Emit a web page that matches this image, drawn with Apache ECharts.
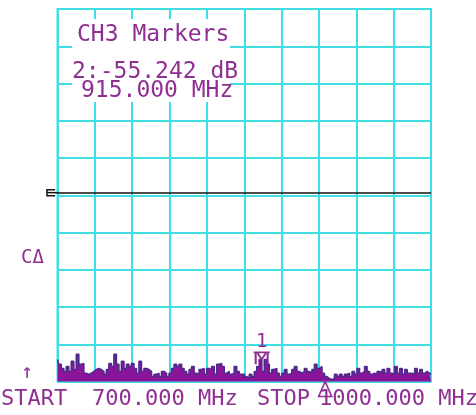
<!DOCTYPE html>
<html><head><meta charset="utf-8">
<script src="https://cdn.jsdelivr.net/npm/echarts@6/dist/echarts.min.js"></script>
<style>html,body{margin:0;padding:0;background:#fff}#c{width:476px;height:415px}</style>
</head><body><div id="c"></div>
<script>
// Sweep settings (MHz)
const startFreq = 700;
const stopFreq = 1000;
// Trace readings (dB), read left to right off the display
const traceDb = [
 -94.1,-95.4,-96.5,-97.3,-96.0,-97.3,-94.6,-96.8,-92.7,-95.4,-95.2,-97.8,-98.1,-97.8,-97.3,-96.8,-96.5,-96.8,-97.3,-98.1,-96.8,-95.2,-96.0,-92.7,-95.4,-97.3,-94.6,-96.5,-95.4,-96.0,-95.2,-96.5,-97.8,-94.6,-97.3,-96.5,-96.8,
 -97.3,-98.7,-98.1,-97.8,-98.7,-97.3,-97.8,-98.7,-97.8,-96.5,-95.4,-96.0,-95.4,-96.5,-97.3,-98.1,-96.8,-96.0,-97.8,-98.1,-96.8,-96.5,-98.1,-96.5,-96.8,-96.0,-98.1,-95.4,-95.2,-96.0,-97.8,-97.3,-98.1,-97.8,-96.0,-97.3,-98.1,-98.1,
 -98.7,-99.2,-98.1,-98.7,-97.3,-96.0,-94.1,-97.3,-94.1,-95.4,-97.8,-96.8,-96.5,-97.8,-98.7,-97.8,-96.8,-98.1,-97.8,-96.8,-96.0,-97.3,-97.8,-97.3,-96.5,-97.3,-97.8,-96.8,-95.4,-96.5,-96.0,-97.8,-98.7,-99.2,-99.5,-99.2,
 -98.1,-98.7,-98.1,-98.7,-98.1,-97.8,-98.7,-97.3,-98.1,-96.5,-97.8,-97.3,-96.0,-97.3,-98.1,-97.8,-98.1,-97.3,-97.8,-96.8,-97.8,-96.5,-97.8,-98.1,-96.0,-97.8,-96.5,-98.1,-96.8,-97.8,-97.8,-98.1,-96.5,-97.8,-96.8,-97.8,-97.3,-97.8,-98.1
];
// Reference level line (dB)
const refLevelDb = -49.3;
// Markers: [frequency MHz, dB]
const marker1 = [864, -95.4];
const marker2 = [915, -100];
// Annotation texts
const titleText = 'CH3 Markers';
const markerValueText = '2:-55.242 dB';
const markerFreqText = '915.000 MHz';
const startLabel = 'START';
const startValue = '700.000 MHz';
const stopLabel = 'STOP';
const stopValue = '1000.000 MHz';
const sideLabel = 'C\u0394';
const arrowLabel = '\u2191';

const CYAN = '#3fdde6';
const PURPLE = '#8f2f92';
const TRACE = '#8a159a';
const FONT = '"DejaVu Sans Mono", monospace';

const n = traceDb.length;
const traceData = traceDb.map((v, i) => [startFreq + i * (stopFreq - startFreq) / (n - 1), v]);

const chart = echarts.init(document.getElementById('c'), null, {renderer: 'canvas'});
const option = {
  animation: false,
  backgroundColor: '#fff',
  grid: {left: 57.5, right: 45, top: 9, bottom: 33.5, show: true, borderColor: CYAN, borderWidth: 2},
  xAxis: {type: 'value', min: startFreq, max: stopFreq, interval: 30,
    axisLine: {show: false}, axisTick: {show: false}, axisLabel: {show: false},
    splitLine: {show: true, lineStyle: {color: CYAN, width: 2}}},
  yAxis: {type: 'value', min: -100, max: 0, interval: 10,
    axisLine: {show: false}, axisTick: {show: false}, axisLabel: {show: false},
    splitLine: {show: true, lineStyle: {color: CYAN, width: 2}}},
  series: [{
    type: 'line', data: traceData, step: 'middle', showSymbol: false, z: 3,
    lineStyle: {color: '#4e2a8c', width: 1.6},
    areaStyle: {color: TRACE, opacity: 1, origin: 'start'},
    markLine: {silent: true, symbol: 'none', label: {show: false},
      lineStyle: {color: '#111', width: 1.5, type: 'solid'},
      data: [{yAxis: refLevelDb}]},
    markPoint: {silent: true, data: [
      {coord: marker1, symbol: 'path://M0,0 L16,0 M2,0 L2,12 M14,0 L14,12 M4,1 L8,7 L12,1',
       symbolSize: [16, 12], symbolOffset: [0, '-50%'],
       itemStyle: {color: 'rgba(0,0,0,0)', borderColor: PURPLE, borderWidth: 1.8},
       label: {show: true, formatter: '1', position: 'top', distance: 0, color: PURPLE,
         fontFamily: FONT, fontSize: 19}},
      {coord: marker2, symbol: 'path://M6,0 L0,15 L12,15 Z', symbolSize: [13, 15], symbolOffset: [0, '50%'],
       itemStyle: {color: 'rgba(0,0,0,0)', borderColor: PURPLE, borderWidth: 1.6},
       label: {show: false}}
    ]}
  }]
};
chart.setOption(option);

const refY = chart.convertToPixel({gridIndex: 0}, [startFreq, refLevelDb])[1];
const txt = (x, y, s, size) => ({type: 'text', left: x, top: y, z: 10,
  style: {text: s, fill: PURPLE, font: size + 'px ' + FONT, textVerticalAlign: 'top'}});
chart.setOption({graphic: [
  {type: 'rect', shape: {x: 72, y: 19, width: 158, height: 83}, style: {fill: '#fff'}, z: 5},
  txt(77, 24, titleText, 23),
  txt(72, 61, markerValueText, 23),
  txt(81, 80, markerFreqText, 23),
  txt(1, 388, startLabel, 22),
  txt(92, 388, startValue, 22),
  txt(257, 388, stopLabel, 22),
  txt(319, 388, stopValue, 22),
  txt(21, 249, sideLabel, 19),
  txt(21, 363, arrowLabel, 20),
  {type: 'polyline', z: 10, shape: {points: [[55, refY - 3], [47, refY - 3], [47, refY + 3], [55, refY + 3]]},
   style: {stroke: '#111', lineWidth: 1.5, fill: null}},
  {type: 'line', z: 10, shape: {x1: 47, y1: refY, x2: 58, y2: refY}, style: {stroke: '#111', lineWidth: 1.5}}
]});
</script></body></html>
